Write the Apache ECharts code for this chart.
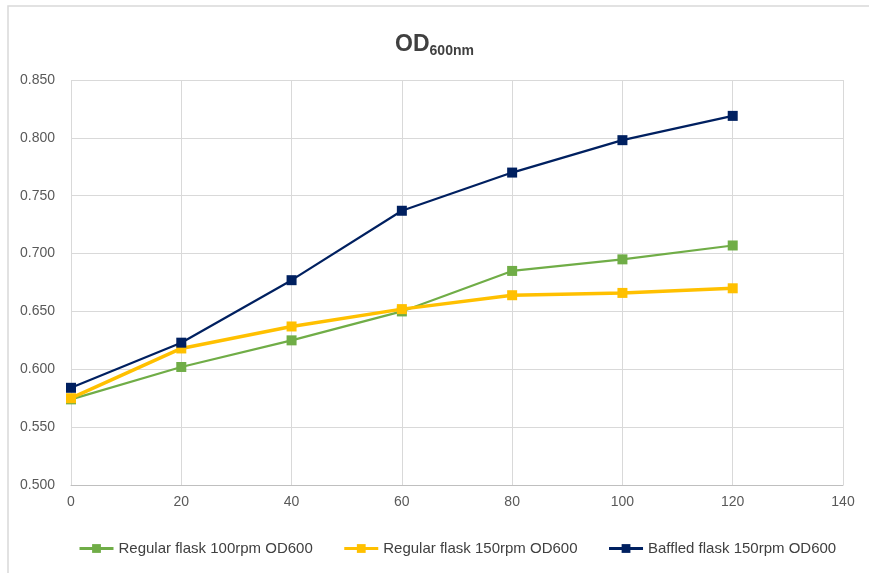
<!DOCTYPE html>
<html>
<head>
<meta charset="utf-8">
<script src="https://cdn.jsdelivr.net/npm/echarts@6/dist/echarts.min.js"></script>
<style>
  html, body { margin: 0; padding: 0; background: #fff; }
  #chart { width: 869px; height: 573px; }
</style>
</head>
<body>
<div id="chart"></div>
<script>
  // time points (x axis)
  const timePoints = [0, 20, 40, 60, 80, 100, 120]
  // OD600 readings
  const regular100 = [0.574, 0.602, 0.625, 0.650, 0.685, 0.695, 0.707]
  const regular150 = [0.575, 0.618, 0.637, 0.652, 0.664, 0.666, 0.670]
  const baffled150 = [0.584, 0.623, 0.677, 0.737, 0.770, 0.798, 0.819]
  const seriesNames = ['Regular flask 100rpm OD600', 'Regular flask 150rpm OD600', 'Baffled flask 150rpm OD600']

  const font = "'Liberation Sans', Arial, sans-serif"
  const pair = (ys) => timePoints.map((x, i) => [x, ys[i]])

  const chart = echarts.init(document.getElementById('chart'))

  const option = {
    backgroundColor: '#fff',
    animation: false,
    graphic: [
      {
        type: 'rect',
        shape: { x: 8, y: 6, width: 900, height: 600 },
        style: { fill: 'none', stroke: '#d9d9d9', lineWidth: 1.5 },
        silent: true
      }
    ],
    title: {
      text: '{a|OD}{b|600nm}',
      left: 'center',
      top: 26,
      textStyle: {
        rich: {
          a: { fontSize: 23, fontWeight: 'bold', color: '#404040', fontFamily: font },
          b: { fontSize: 14, fontWeight: 'bold', color: '#404040', fontFamily: font, verticalAlign: 'bottom', padding: [13, 0, 0, 0] }
        }
      }
    },
    legend: {
      bottom: 12,
      left: 73,
      itemGap: 30,
      itemWidth: 34,
      itemHeight: 11,
      textStyle: { color: '#404040', fontSize: 15, fontFamily: font },
      lineStyle: { width: 3 },
      data: seriesNames
    },
    grid: { left: 71, right: 26, top: 80, bottom: 88 },
    xAxis: {
      type: 'value',
      min: 0,
      max: 140,
      interval: 20,
      axisLine: { show: true, lineStyle: { color: '#bfbfbf' } },
      axisTick: { show: false },
      axisLabel: { color: '#595959', fontSize: 14, fontFamily: font, margin: 10 },
      splitLine: { show: true, lineStyle: { color: '#d9d9d9' } }
    },
    yAxis: {
      type: 'value',
      min: 0.5,
      max: 0.85,
      interval: 0.05,
      axisLine: { show: false },
      axisTick: { show: false },
      axisLabel: { color: '#595959', fontSize: 14, fontFamily: font, margin: 16, formatter: (v) => v.toFixed(3) },
      splitLine: { show: true, lineStyle: { color: '#d9d9d9' } }
    },
    series: [
      {
        name: seriesNames[0],
        type: 'line',
        symbol: 'rect',
        symbolSize: 10,
        color: '#70ad47',
        lineStyle: { width: 2.2 },
        z: 2,
        data: pair(regular100)
      },
      {
        name: seriesNames[1],
        type: 'line',
        symbol: 'rect',
        symbolSize: 10,
        color: '#ffc000',
        lineStyle: { width: 3.5 },
        z: 3,
        data: pair(regular150)
      },
      {
        name: seriesNames[2],
        type: 'line',
        symbol: 'rect',
        symbolSize: 10,
        color: '#002060',
        lineStyle: { width: 2.2 },
        z: 4,
        data: pair(baffled150)
      }
    ]
  }

  chart.setOption(option)
</script>
</body>
</html>
